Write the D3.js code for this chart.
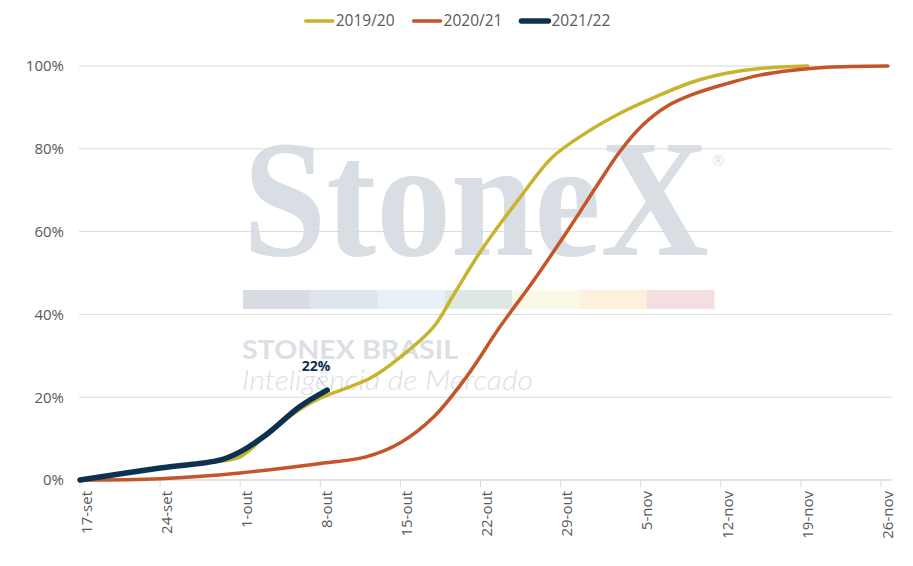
<!DOCTYPE html>
<html>
<head>
<meta charset="utf-8">
<script src="https://cdn.jsdelivr.net/npm/d3@7"></script>
<style>
  body { margin: 0; background: #fff; }
  svg { display: block; font-family: "Open Sans", sans-serif; }
</style>
</head>
<body>
<div id="chart"></div>
<script>
//////////////////////////////////////////////////////////////
//////////////////////// Data ////////////////////////////////
//////////////////////////////////////////////////////////////

//Days counted from 17-set, share of area done (%)
var days1920 = [0, 3.5, 7, 10.5, 14, 16.3, 19.2, 21, 25.3, 28, 30.9, 32.6, 35, 38.5, 41.3, 44.3, 47.2, 50.1, 53.6, 56.6, 59.4, 63.6],
    pct1920  = [0, 1.5, 2.9, 4.0, 5.6, 11, 17, 19.8, 24.5, 29.7, 37, 44.5, 55.2, 68.4, 78, 84, 88.6, 92.3, 96.2, 98.3, 99.4, 100];

var days2021 = [0, 7, 14, 21, 25, 28, 30.9, 33.8, 36.7, 39.6, 42.8, 45.2, 47.2, 49.2, 51.3, 53.6, 56.6, 59.4, 62.3, 65.3, 70.6],
    pct2021  = [0, 0.3, 1.7, 4, 5.6, 9, 15.2, 25, 37, 48, 61, 71.2, 79.4, 85.8, 90.3, 93.2, 95.8, 97.8, 99, 99.7, 100];

var days2122 = [0, 7, 12.2, 14, 16.3, 19.2, 21.6],
    pct2122  = [0, 2.9, 4.8, 6.8, 11, 17.7, 21.7];

var seriesNames = ["2019/20", "2020/21", "2021/22"],
    seriesColors = ["#c8b42c", "#c4552a", "#0d3151"],
    seriesWidths = [3.5, 3.5, 5.5];

var xTickDays = [0, 7, 14, 21, 28, 35, 42, 49, 56, 63, 70],
    xTickLabels = ["17-set", "24-set", "1-out", "8-out", "15-out", "22-out", "29-out", "5-nov", "12-nov", "19-nov", "26-nov"],
    yTicks = [0, 20, 40, 60, 80, 100];

var lastLabel = "22%";

//////////////////////////////////////////////////////////////
////////////////////// Set up ////////////////////////////////
//////////////////////////////////////////////////////////////

var width = 913,
    height = 566,
    gridLeft = 79,
    gridRight = 892;

var svg = d3.select("#chart").append("svg")
    .attr("width", width)
    .attr("height", height);

var x = d3.scaleLinear().domain([0, 70]).range([80, 881]);
var y = d3.scaleLinear().domain([0, 100]).range([480, 66]);

var textGray = "#595959",
    lineGray = "#d9d9d9";

//////////////////////////////////////////////////////////////
///////////////////// Watermark //////////////////////////////
//////////////////////////////////////////////////////////////

var mark = svg.append("g").attr("class", "watermark");

mark.append("text")
    .attr("x", 243)
    .attr("y", 255)
    .attr("textLength", 466)
    .attr("lengthAdjust", "spacingAndGlyphs")
    .style("font-family", "'Liberation Serif', 'DejaVu Serif', serif")
    .style("font-weight", 700)
    .style("font-size", "168px")
    .attr("fill", "#d9dee4")
    .text("StoneX");

mark.append("text")
    .attr("x", 712)
    .attr("y", 166)
    .style("font-size", "15px")
    .attr("fill", "#dfe3e8")
    .text("®");

var barColors = ["#d8dde3", "#dfe5ec", "#e9f0f7", "#dde8e2", "#faf8e6", "#fdf1dd", "#f3dfe0"];
mark.selectAll(".wmBar")
    .data(barColors)
  .enter().append("rect")
    .attr("class", "wmBar")
    .attr("x", function(d, i) { return 243 + i * 67.3; })
    .attr("y", 290)
    .attr("width", 67.6)
    .attr("height", 19)
    .attr("fill", function(d) { return d; });

mark.append("text")
    .attr("x", 242)
    .attr("y", 359)
    .attr("textLength", 216)
    .attr("lengthAdjust", "spacingAndGlyphs")
    .style("font-family", "Lato, 'Open Sans', sans-serif")
    .style("font-weight", 700)
    .style("font-size", "27px")
    .attr("fill", "#dce0e6")
    .text("STONEX BRASIL");

mark.append("text")
    .attr("x", 242)
    .attr("y", 390)
    .attr("textLength", 291)
    .attr("lengthAdjust", "spacingAndGlyphs")
    .style("font-family", "Lato, 'Open Sans', sans-serif")
    .style("font-weight", 300)
    .style("font-style", "italic")
    .style("font-size", "27px")
    .attr("fill", "#dce0e6")
    .text("Inteligência de Mercado");

//////////////////////////////////////////////////////////////
/////////////////////// Axes /////////////////////////////////
//////////////////////////////////////////////////////////////

//Horizontal gridlines
svg.selectAll(".grid")
    .data(yTicks)
  .enter().append("line")
    .attr("class", "grid")
    .attr("x1", gridLeft)
    .attr("x2", gridRight)
    .attr("y1", function(d) { return y(d); })
    .attr("y2", function(d) { return y(d); })
    .attr("stroke", lineGray)
    .attr("stroke-width", 1);

//Y axis labels
var yAxis = d3.axisLeft(y)
    .tickValues(yTicks)
    .tickSize(0)
    .tickPadding(0)
    .tickFormat(function(d) { return d + "%"; });

var yG = svg.append("g")
    .attr("transform", "translate(64,0)")
    .call(yAxis);
yG.select(".domain").remove();
yG.selectAll("text")
    .attr("fill", textGray)
    .style("font-family", "'Open Sans', sans-serif")
    .style("font-size", "15px");

//X axis
var xAxis = d3.axisBottom(x)
    .tickValues(xTickDays)
    .tickSize(7)
    .tickFormat(function(d, i) { return xTickLabels[i]; });

var xG = svg.append("g")
    .attr("transform", "translate(0,480)")
    .call(xAxis);
xG.select(".domain")
    .attr("d", "M" + gridLeft + ",0H" + gridRight)
    .attr("stroke", lineGray);
xG.selectAll(".tick line").attr("stroke", lineGray);
xG.selectAll("text")
    .attr("fill", textGray)
    .style("font-family", "'Open Sans', sans-serif")
    .style("font-size", "15px")
    .attr("text-anchor", "end")
    .attr("transform", "rotate(-90)")
    .attr("x", -11)
    .attr("y", 0)
    .attr("dy", "0.38em")
    .attr("dx", 0);
xG.selectAll(".tick").attr("transform", function(d) { return "translate(" + (x(d) + 6) + ",0)"; });
xG.selectAll(".tick line").attr("transform", "translate(-6,0)");

//////////////////////////////////////////////////////////////
/////////////////////// Lines ////////////////////////////////
//////////////////////////////////////////////////////////////

var series = [
    d3.zip(days1920, pct1920),
    d3.zip(days2021, pct2021),
    d3.zip(days2122, pct2122)
];

var line = d3.line()
    .x(function(d) { return x(d[0]); })
    .y(function(d) { return y(d[1]); })
    .curve(d3.curveCatmullRom.alpha(0.5));

svg.selectAll(".series")
    .data(series)
  .enter().append("path")
    .attr("class", "series")
    .attr("d", line)
    .attr("fill", "none")
    .attr("stroke", function(d, i) { return seriesColors[i]; })
    .attr("stroke-width", function(d, i) { return seriesWidths[i]; })
    .attr("stroke-linecap", "round")
    .attr("stroke-linejoin", "round");

//Label of the last point of 2021/22
var lastDay = days2122[days2122.length - 1],
    lastPct = pct2122[pct2122.length - 1];

svg.append("line")
    .attr("x1", x(lastDay) - 9)
    .attr("y1", y(lastPct) - 13)
    .attr("x2", x(lastDay) - 2)
    .attr("y2", y(lastPct) - 3)
    .attr("stroke", "#a6a6a6")
    .attr("stroke-width", 0.8);

svg.append("text")
    .attr("x", x(lastDay) - 11)
    .attr("y", y(lastPct) - 19)
    .attr("text-anchor", "middle")
    .style("font-family", "'Open Sans', sans-serif")
    .style("font-weight", 700)
    .style("font-size", "14px")
    .attr("fill", "#0d3151")
    .text(lastLabel);

//////////////////////////////////////////////////////////////
/////////////////////// Legend ///////////////////////////////
//////////////////////////////////////////////////////////////

var legend = svg.append("g").attr("class", "legend");
var legendX = 0;
seriesNames.forEach(function(name, i) {
    var item = legend.append("g").attr("transform", "translate(" + legendX + ",0)");
    item.append("line")
        .attr("x1", 2).attr("x2", 29)
        .attr("y1", 0).attr("y2", 0)
        .attr("stroke", seriesColors[i])
        .attr("stroke-width", seriesWidths[i])
        .attr("stroke-linecap", "round");
    var t = item.append("text")
        .attr("x", 32)
        .attr("dy", "0.35em")
        .attr("fill", textGray)
        .style("font-family", "'Open Sans', sans-serif")
        .style("font-size", "15.5px")
        .text(name);
    legendX += 32 + t.node().getComputedTextLength() + 17;
});
legend.attr("transform", "translate(" + (457 - (legendX - 17) / 2) + ",21)");
</script>
</body>
</html>
